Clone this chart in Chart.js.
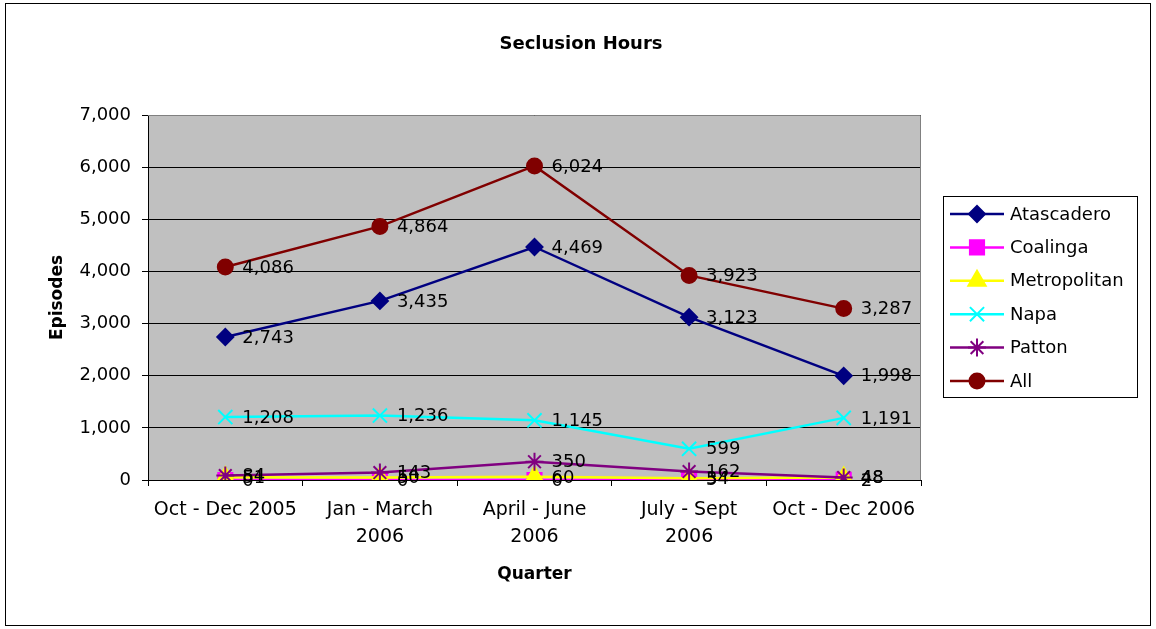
<!DOCTYPE html>
<html><head><meta charset="utf-8">
<script src="https://cdn.jsdelivr.net/npm/chart.js@4/dist/chart.umd.min.js"></script>
<style>html,body{margin:0;padding:0;background:#fff;overflow:hidden}canvas{display:block}</style>
</head><body>
<canvas id="c" width="1156" height="629"></canvas>
<script>
const chartTitle = 'Seclusion Hours';
const xTitle = 'Quarter';
const yTitle = 'Episodes';
const categories = [['Oct - Dec 2005'], ['Jan - March', '2006'], ['April - June', '2006'], ['July - Sept', '2006'], ['Oct - Dec 2006']];
const seriesNames = ['Atascadero', 'Coalinga', 'Metropolitan', 'Napa', 'Patton', 'All'];
const atascadero = [2743, 3435, 4469, 3123, 1998];
const coalinga = [0, 0, 0, 5, 2];
const metropolitan = [51, 50, 60, 34, 48];
const napa = [1208, 1236, 1145, 599, 1191];
const patton = [84, 143, 350, 162, 48];
const all = [4086, 4864, 6024, 3923, 3287];
const yMin = 0, yMax = 7000, yStep = 1000;

const seriesValues = [atascadero, coalinga, metropolitan, napa, patton, all];
const colors = ['#000080', '#FF00FF', '#FFFF00', '#00FFFF', '#800080', '#800000'];
const styles = ['rectRot', 'rect', 'triangle', 'crossRot', 'star', 'circle'];
const radii = [8, 10, 10, 10, 9, 7.5];
const FONT = "'DejaVu Sans', sans-serif";

const datasets = seriesNames.map((n, i) => ({
  label: n,
  data: seriesValues[i],
  borderColor: colors[i],
  backgroundColor: colors[i],
  pointBackgroundColor: colors[i],
  pointBorderColor: colors[i],
  pointStyle: styles[i],
  pointRadius: radii[i],
  pointHoverRadius: radii[i],
  pointBorderWidth: 2,
  borderWidth: 2.5,
  tension: 0,
  order: seriesNames.length - 1 - i
}));

const fmt = v => v.toLocaleString('en-US');

const decor = {
  id: 'decor',
  beforeDraw(chart) {
    const {ctx, chartArea: a} = chart;
    ctx.save();
    ctx.fillStyle = '#C0C0C0';
    ctx.fillRect(a.left, a.top, a.right - a.left, a.bottom - a.top);
    ctx.restore();
  },
  beforeDatasetsDraw(chart) {
    const {ctx, chartArea: a} = chart;
    ctx.save();
    ctx.strokeStyle = '#808080';
    ctx.lineWidth = 1;
    ctx.beginPath();
    ctx.moveTo(a.left, a.top + 0.5);
    ctx.lineTo(a.right - 0.5, a.top + 0.5);
    ctx.lineTo(a.right - 0.5, a.bottom);
    ctx.stroke();
    ctx.restore();
  },
  afterDatasetsDraw(chart) {
    const {ctx} = chart;
    ctx.save();
    ctx.font = '18px ' + FONT;
    ctx.fillStyle = '#000';
    ctx.textAlign = 'left';
    ctx.textBaseline = 'middle';
    chart.data.datasets.forEach((ds, i) => {
      const meta = chart.getDatasetMeta(i);
      meta.data.forEach((pt, j) => {
        ctx.fillText(fmt(ds.data[j]), pt.x + 17, pt.y + 1);
      });
    });
    ctx.restore();
  },
  afterDraw(chart) {
    const {ctx} = chart;
    ctx.save();
    ctx.strokeStyle = '#000';
    ctx.lineWidth = 1;
    ctx.strokeRect(5.5, 3.5, 1145, 622);
    ctx.font = 'bold 18px ' + FONT;
    ctx.fillStyle = '#000';
    ctx.textAlign = 'center';
    ctx.textBaseline = 'middle';
    ctx.fillText(chartTitle, 581, 44);
    ctx.strokeRect(943.5, 196.5, 194, 201);
    chart.data.datasets.forEach((ds, i) => {
      const y = 214 + i * 33.4;
      ctx.strokeStyle = ds.borderColor;
      ctx.fillStyle = ds.borderColor;
      ctx.lineWidth = 2.5;
      ctx.beginPath();
      ctx.moveTo(950, y);
      ctx.lineTo(1004, y);
      ctx.stroke();
      ctx.lineWidth = 2;
      Chart.helpers.drawPoint(ctx, {pointStyle: ds.pointStyle, radius: ds.pointRadius, rotation: 0, borderWidth: 2}, 977, y);
      ctx.fillStyle = '#000';
      ctx.font = '18px ' + FONT;
      ctx.textAlign = 'left';
      ctx.textBaseline = 'middle';
      ctx.fillText(ds.label, 1010, y + 1);
    });
    ctx.restore();
  }
};

new Chart(document.getElementById('c'), {
  type: 'line',
  data: {labels: categories, datasets},
  options: {
    responsive: false,
    animation: false,
    events: [],
    layout: {padding: {top: 115, right: 235, left: 0, bottom: 0}},
    plugins: {legend: {display: false}, title: {display: false}, tooltip: {enabled: false}},
    scales: {
      x: {
        offset: true,
        grid: {offset: true, drawOnChartArea: false, color: '#000', tickLength: 6},
        border: {color: '#000', width: 1},
        ticks: {color: '#000', padding: 11, maxRotation: 0, autoSkip: false, font: {family: FONT, size: 19, lineHeight: 1.42}},
        title: {display: true, text: xTitle, color: '#000', font: {family: FONT, size: 17, weight: 'bold', lineHeight: 1.2}, padding: {top: 0, bottom: 44}},
        afterFit(s) { s.height = 149; }
      },
      y: {
        min: yMin, max: yMax,
        grid: {color: '#000', tickLength: 6},
        border: {color: '#000', width: 1},
        ticks: {stepSize: yStep, color: '#000', padding: 11, font: {family: FONT, size: 18}, callback: v => fmt(v)},
        title: {display: true, text: yTitle, color: '#000', font: {family: FONT, size: 17, weight: 'bold', lineHeight: 1.2}, padding: {top: 47, bottom: 0}},
        afterFit(s) { s.width = 148; }
      }
    }
  },
  plugins: [decor]
});
</script>
</body></html>
